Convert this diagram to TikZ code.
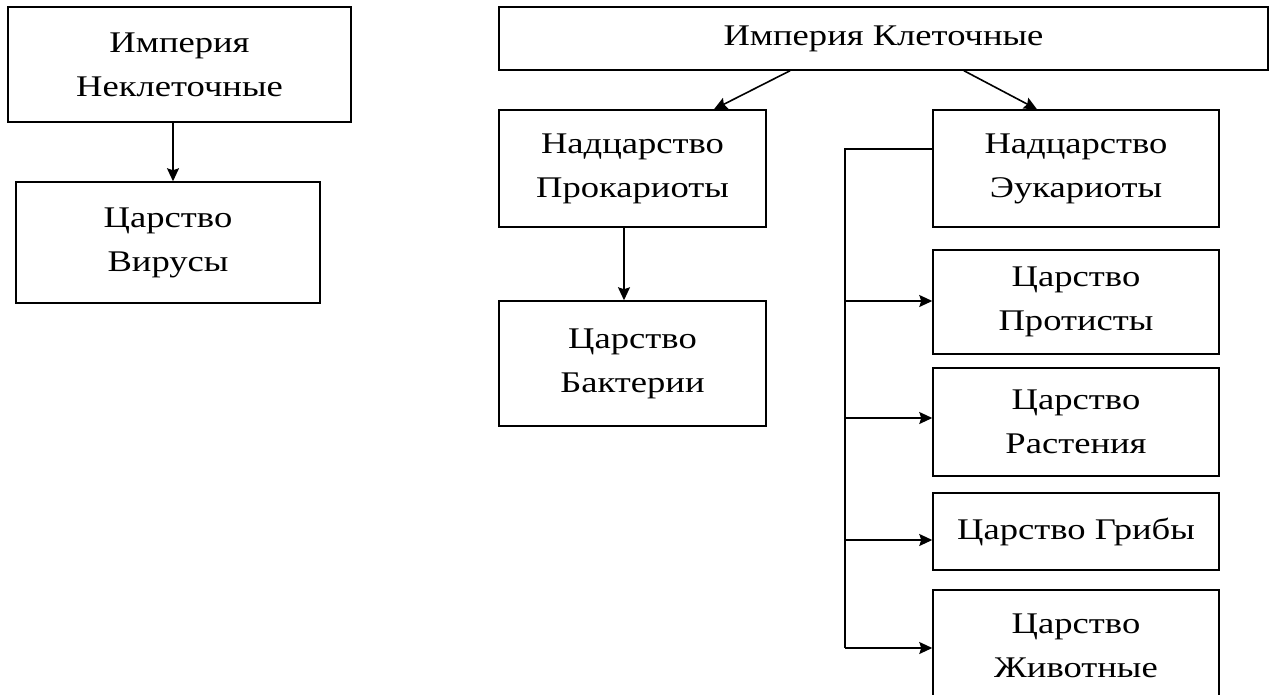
\documentclass[tikz,border=0pt]{standalone}
\usepackage{fontspec}
\setmainfont{Liberation Serif}[FakeStretch=1.22]
\usetikzlibrary{arrows.meta}
\begin{document}
\begin{tikzpicture}[x=1pt,y=-1pt,
  box/.style={draw=black, line width=1.5pt, inner sep=0pt, align=center,
    font=\fontsize{30}{44}\selectfont, anchor=center},
  conn/.style={line width=1.6pt},
  arr/.style={line width=1.6pt, -{Stealth[length=13pt,width=12pt,inset=2pt]}}]
\useasboundingbox (0,0) rectangle (1270,694);
\clip (0,0) rectangle (1270,694);
% left part
\node[box, minimum width=343pt, minimum height=115pt] (k1) at (179.5,64.5) {Империя\\Неклеточные};
\node[box, minimum width=304pt, minimum height=121pt] (k2) at (168,242.5) {Царство\\Вирусы};
\coordinate (a1) at (173,0);
\draw[arr] (k1.south -| a1) -- (k2.north -| a1);
% right part
\node[box, minimum width=769pt, minimum height=63pt] (k3) at (883.5,38.5) {Империя Клеточные};
\node[box, minimum width=267pt, minimum height=117pt] (k4) at (632.5,168.5) {Надцарство\\Прокариоты};
\node[box, minimum width=286pt, minimum height=117pt] (k6) at (1076,168.5) {Надцарство\\Эукариоты};
\node[box, minimum width=267pt, minimum height=125pt] (k5) at (632.5,363.5) {Царство\\Бактерии};
\node[box, minimum width=286pt, minimum height=104pt] (k7) at (1076,302) {Царство\\Протисты};
\node[box, minimum width=286pt, minimum height=108pt] (k8) at (1076,422) {Царство\\Растения};
\node[box, minimum width=286pt, minimum height=77pt] (k9) at (1076,531.5) {Царство Грибы};
\node[box, minimum width=286pt, minimum height=112pt] (k10) at (1076,646) {Царство\\Животные};
\coordinate (b1) at (790,0);
\coordinate (b2) at (714,0);
\coordinate (b3) at (964,0);
\coordinate (b4) at (1037,0);
\draw[arr] (k3.south -| b1) -- (k4.north -| b2);
\draw[arr] (k3.south -| b3) -- (k6.north -| b4);
\coordinate (p1) at (624,0);
\draw[arr] (k4.south -| p1) -- (k5.north -| p1);
\coordinate (c0) at (845,149);
\coordinate (c1) at (845,301);
\coordinate (c2) at (845,418);
\coordinate (c3) at (845,540);
\coordinate (c4) at (845,648);
\draw[conn] (k6.west |- c0) -- (c0) -- (c4);
\draw[arr] (c1) -- (k7.west |- c1);
\draw[arr] (c2) -- (k8.west |- c2);
\draw[arr] (c3) -- (k9.west |- c3);
\draw[arr] (c4) -- (k10.west |- c4);
\end{tikzpicture}
\end{document}
